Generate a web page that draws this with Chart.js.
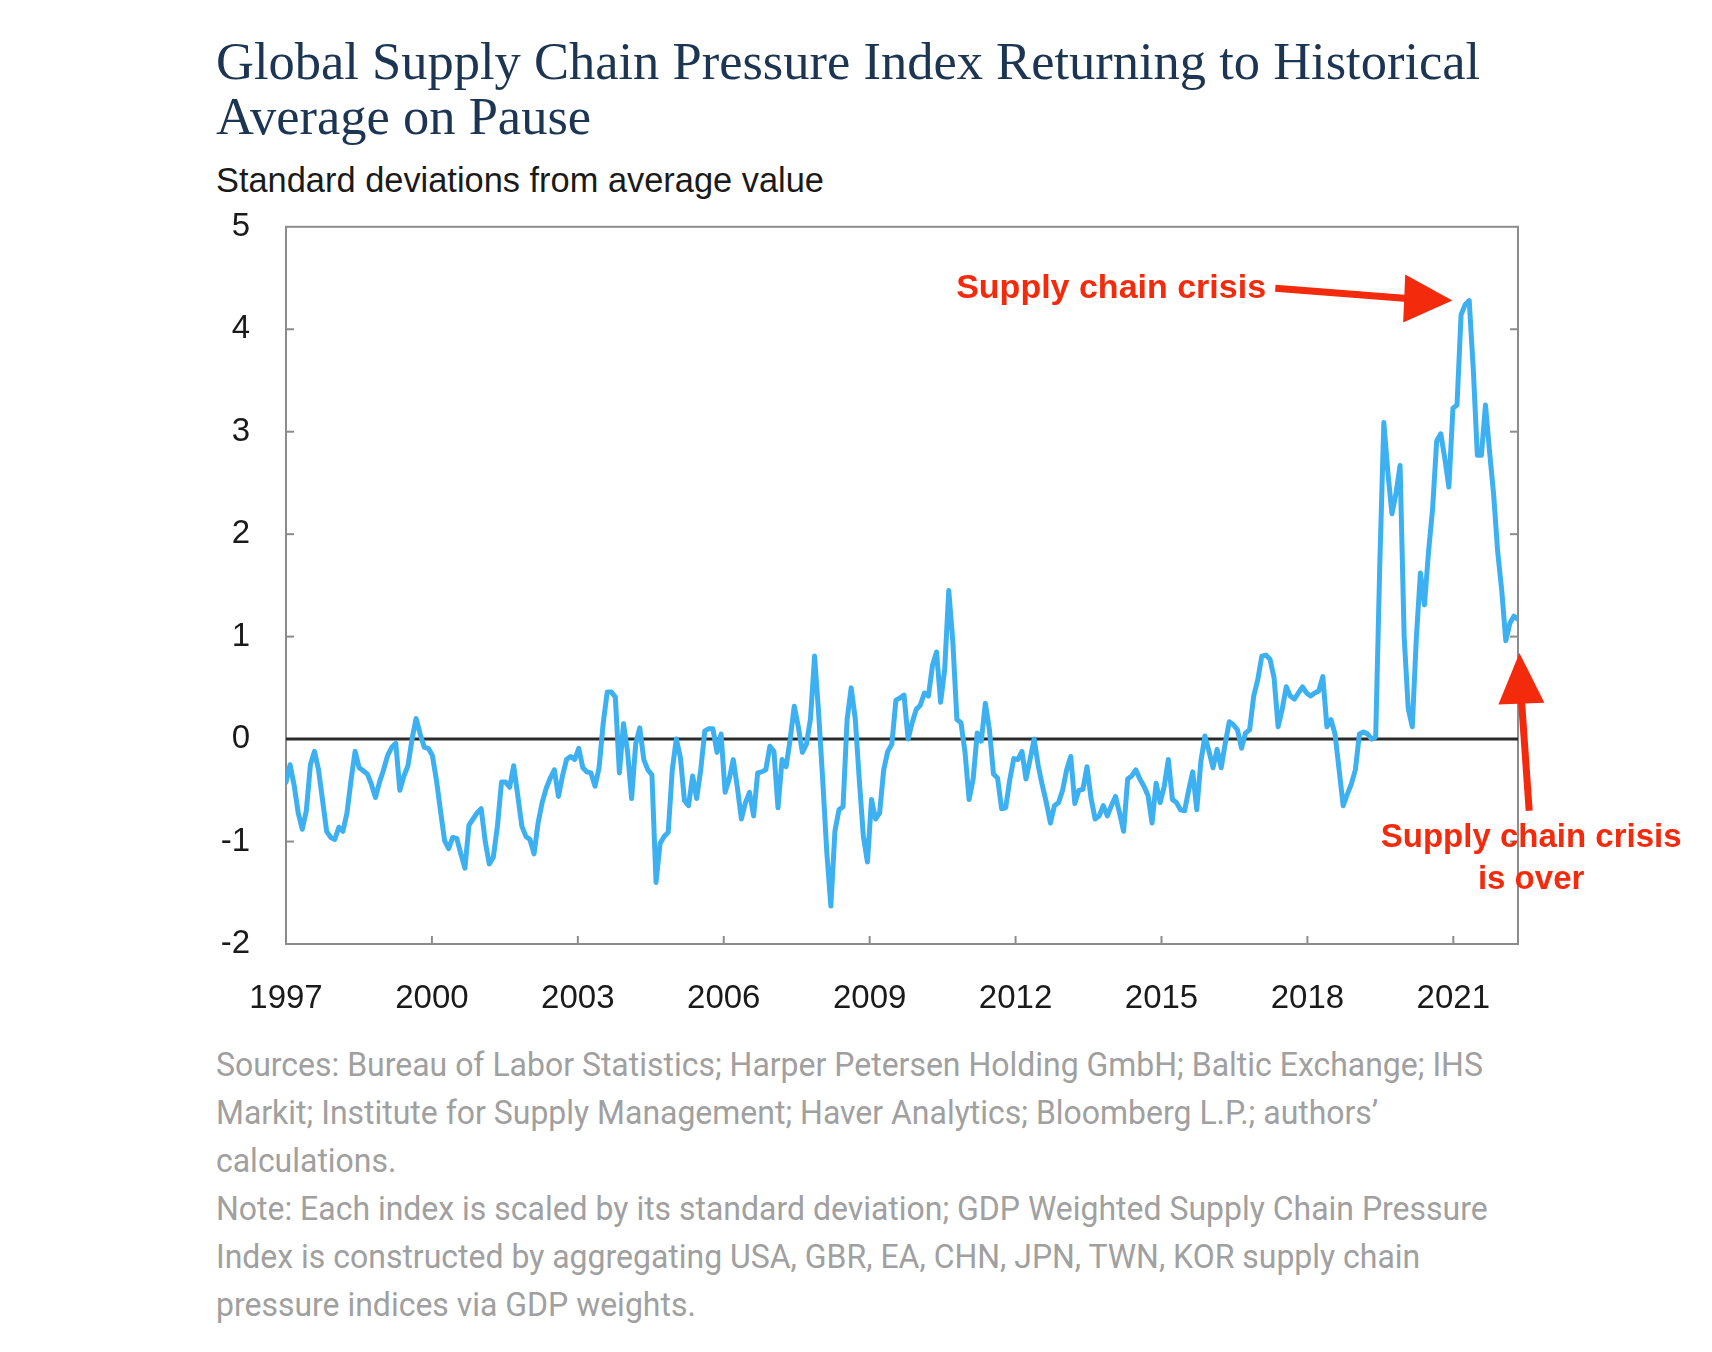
<!DOCTYPE html>
<html>
<head>
<meta charset="utf-8">
<script src="https://cdn.jsdelivr.net/npm/chart.js@4.4.0/dist/chart.umd.min.js"></script>
<style>
html,body{margin:0;padding:0;background:#fff;width:1712px;height:1352px;overflow:hidden;}
.t{position:absolute;white-space:nowrap;}
#title{left:216px;top:34px;font-family:"Liberation Serif","Times New Roman",serif;font-size:52.5px;line-height:55px;color:#1c3553;}
#sub{left:216px;top:160px;font-family:"Liberation Sans",Arial,sans-serif;font-size:34.4px;line-height:40px;color:#1a1a1a;}
#notes{left:216px;top:1040px;font-family:Roboto,sans-serif;font-size:34px;line-height:48px;color:#a0a0a0;transform:scaleX(0.94);transform-origin:0 0;}
#wrap{position:absolute;left:0;top:171px;width:1712px;height:859px;}
</style>
</head>
<body>
<div id="title" class="t">Global Supply Chain Pressure Index Returning to Historical<br>Average on Pause</div>
<div id="sub" class="t">Standard deviations from average value</div>
<div id="wrap"><canvas id="c"></canvas></div>
<div id="notes" class="t">Sources: Bureau of Labor Statistics; Harper Petersen Holding GmbH; Baltic Exchange; IHS<br>Markit; Institute for Supply Management; Haver Analytics; Bloomberg L.P.; authors’<br>calculations.<br>Note: Each index is scaled by its standard deviation; GDP Weighted Supply Chain Pressure<br>Index is constructed by aggregating USA, GBR, EA, CHN, JPN, TWN, KOR supply chain<br>pressure indices via GDP weights.</div>
<script>
// ---- data ----
const xTickYears = [1997, 2000, 2003, 2006, 2009, 2012, 2015, 2018, 2021];
const yTickValues = [-2, -1, 0, 1, 2, 3, 4, 5];
const axisStart = 1997;
const axisEnd = 2022.33;
// monthly index values (first point at the left edge, last at the right edge)
const gscpi = [
 -0.42,-0.25,-0.45,-0.72,-0.88,-0.70,-0.25,-0.12,-0.30,-0.60,
 -0.90,-0.96,-0.98,-0.86,-0.90,-0.72,-0.40,-0.12,-0.28,-0.31,
 -0.34,-0.44,-0.57,-0.42,-0.30,-0.16,-0.08,-0.04,-0.50,-0.36,
 -0.26, 0.00, 0.20, 0.05,-0.08,-0.09,-0.16,-0.40,-0.70,-0.99,
 -1.07,-0.96,-0.97,-1.12,-1.26,-0.84,-0.78,-0.72,-0.68,-1.00,
 -1.22,-1.15,-0.85,-0.42,-0.42,-0.47,-0.26,-0.55,-0.85,-0.95,
 -0.98,-1.12,-0.82,-0.62,-0.48,-0.38,-0.30,-0.56,-0.36,-0.20,
 -0.17,-0.20,-0.09,-0.28,-0.32,-0.33,-0.46,-0.28, 0.15, 0.46,
  0.46, 0.41,-0.33, 0.15,-0.12,-0.58,-0.05, 0.11,-0.20,-0.30,
 -0.35,-1.40,-1.02,-0.95,-0.91,-0.30, 0.00,-0.18,-0.60,-0.65,
 -0.36,-0.58,-0.30, 0.08, 0.10, 0.10,-0.13, 0.05,-0.52,-0.39,
 -0.20,-0.47,-0.78,-0.62,-0.52,-0.75,-0.33,-0.32,-0.30,-0.07,
 -0.12,-0.67,-0.20,-0.27, 0.00, 0.32, 0.12,-0.13,-0.05, 0.20,
  0.81, 0.25,-0.40,-1.10,-1.63,-0.90,-0.69,-0.66, 0.19, 0.50,
  0.20,-0.40,-0.95,-1.20,-0.59,-0.78,-0.72,-0.30,-0.12,-0.05,
  0.38, 0.40, 0.43, 0.00, 0.16, 0.29, 0.33, 0.45, 0.42, 0.72,
  0.85, 0.36, 0.68, 1.45, 0.95, 0.19, 0.16,-0.13,-0.59,-0.39,
  0.06,-0.02, 0.35, 0.09,-0.34,-0.38,-0.68,-0.67,-0.40,-0.19,
 -0.20,-0.12,-0.39,-0.20, 0.00,-0.26,-0.45,-0.62,-0.82,-0.65,
 -0.62,-0.50,-0.30,-0.17,-0.63,-0.50,-0.49,-0.27,-0.58,-0.78,
 -0.75,-0.65,-0.75,-0.65,-0.56,-0.72,-0.90,-0.39,-0.36,-0.30,
 -0.39,-0.46,-0.55,-0.82,-0.43,-0.62,-0.46,-0.20,-0.59,-0.62,
 -0.69,-0.70,-0.50,-0.32,-0.69,-0.22, 0.03,-0.12,-0.28,-0.10,
 -0.28,-0.04, 0.17, 0.14, 0.09,-0.09, 0.06, 0.09, 0.42, 0.58,
  0.81, 0.82, 0.78, 0.60, 0.12, 0.29, 0.51, 0.42, 0.39, 0.45,
  0.51, 0.45, 0.42, 0.45, 0.47, 0.61, 0.12, 0.19, 0.05,-0.30,
 -0.65,-0.54,-0.44,-0.30, 0.05, 0.07, 0.05, 0.00, 0.02, 1.69,
  3.09, 2.60, 2.20, 2.40, 2.67, 1.00, 0.30, 0.12, 0.99, 1.62,
  1.31, 1.83, 2.25, 2.91, 2.98, 2.74, 2.46, 3.23, 3.26, 4.14,
  4.24, 4.28, 3.61, 2.77, 2.77, 3.26, 2.81, 2.39, 1.83, 1.45,
  0.96, 1.13, 1.20, 1.17
];
// annotation anchors in axis units
const notePeak = {label:'Supply chain crisis', textX:2017.15, textY:4.40, tailX:2017.34, tailY:4.40, baseX:2019.99, baseY:4.30, tipX:2020.98, tipY:4.28};
const noteOver = {lines:['Supply chain crisis','is over'], textX:2022.60, textY:[-0.96,-1.37], tailX:2022.56, tailY:-0.70, baseX:2022.40, baseY:0.345, tipX:2022.36, tipY:0.84};

const step = (axisEnd - axisStart) / (gscpi.length - 1);
const points = gscpi.map((v, i) => ({x: axisStart + i * step, y: v}));

const RED = '#f42a0c';
function arrow(ctx, x, y, n, shaftW, headHalf){
  const tx = x.getPixelForValue(n.tailX), ty = y.getPixelForValue(n.tailY);
  const bx = x.getPixelForValue(n.baseX), by = y.getPixelForValue(n.baseY);
  const px = x.getPixelForValue(n.tipX), py = y.getPixelForValue(n.tipY);
  ctx.strokeStyle = RED; ctx.fillStyle = RED; ctx.lineWidth = shaftW; ctx.lineCap = 'butt';
  ctx.beginPath(); ctx.moveTo(tx, ty); ctx.lineTo(bx + (px - bx) * 0.2, by + (py - by) * 0.2); ctx.stroke();
  const dx = px - bx, dy = py - by, len = Math.hypot(dx, dy);
  const nx = -dy / len, ny = dx / len;
  ctx.beginPath();
  ctx.moveTo(px, py);
  ctx.lineTo(bx + nx * headHalf, by + ny * headHalf);
  ctx.lineTo(bx - nx * headHalf, by - ny * headHalf);
  ctx.closePath(); ctx.fill();
}

const frame = {
  id: 'frame',
  beforeDatasetsDraw(chart){
    const {ctx, chartArea: a, scales: {x, y}} = chart;
    ctx.save();
    ctx.strokeStyle = '#8c8c8c'; ctx.lineWidth = 2;
    ctx.strokeRect(a.left, a.top, a.right - a.left, a.bottom - a.top);
    ctx.lineWidth = 2;
    yTickValues.forEach(v => {
      if (v === yTickValues[0] || v === yTickValues[yTickValues.length - 1]) return;
      const py = y.getPixelForValue(v);
      ctx.beginPath(); ctx.moveTo(a.left, py); ctx.lineTo(a.left + 8, py); ctx.stroke();
      ctx.beginPath(); ctx.moveTo(a.right - 8, py); ctx.lineTo(a.right, py); ctx.stroke();
    });
    xTickYears.forEach((v, i) => {
      if (i === 0) return;
      const px = x.getPixelForValue(v);
      ctx.beginPath(); ctx.moveTo(px, a.bottom); ctx.lineTo(px, a.bottom - 8); ctx.stroke();
    });
    const y0 = y.getPixelForValue(0);
    ctx.strokeStyle = '#2a2a2a'; ctx.lineWidth = 3;
    ctx.beginPath(); ctx.moveTo(a.left, y0); ctx.lineTo(a.right, y0); ctx.stroke();
    ctx.restore();
  },
  afterDraw(chart){
    const {ctx, scales: {x, y}} = chart;
    ctx.save();
    ctx.font = 'bold 34px "Liberation Sans", Arial, sans-serif';
    ctx.fillStyle = RED;
    ctx.textBaseline = 'middle';
    ctx.textAlign = 'right';
    ctx.fillText(notePeak.label, x.getPixelForValue(notePeak.textX), y.getPixelForValue(notePeak.textY));
    arrow(ctx, x, y, notePeak, 7, 24);
    ctx.fillStyle = RED;
    ctx.textAlign = 'center';
    ctx.font = 'bold 33px "Liberation Sans", Arial, sans-serif';
    noteOver.lines.forEach((t, i) => ctx.fillText(t, x.getPixelForValue(noteOver.textX), y.getPixelForValue(noteOver.textY[i])));
    arrow(ctx, x, y, noteOver, 7, 23);
    ctx.restore();
  }
};

new Chart(document.getElementById('c'), {
  type: 'line',
  data: {datasets: [{data: points, borderColor: '#3cb0f0', borderWidth: 5, pointRadius: 0, tension: 0, borderJoinStyle: 'round', borderCapStyle: 'round', fill: false}]},
  options: {
    responsive: true, maintainAspectRatio: false, animation: false,
    layout: {autoPadding: false, padding: {top: 26, right: 194, left: 0, bottom: 0}},
    plugins: {legend: {display: false}, tooltip: {enabled: false}},
    scales: {
      x: {
        type: 'linear', min: axisStart, max: axisEnd,
        grid: {display: false, drawTicks: false}, border: {display: false},
        afterBuildTicks(s){ s.ticks = xTickYears.map(v => ({value: v})); },
        afterFit(s){ s.height = 86; },
        ticks: {padding: 35, color: '#1a1a1a', maxRotation: 0, autoSkip: false, font: {family: '"Liberation Sans", Arial, sans-serif', size: 33}, callback: v => String(v)}
      },
      y: {
        min: -2, max: 5,
        grid: {display: false, drawTicks: false}, border: {display: false},
        afterBuildTicks(s){ s.ticks = yTickValues.map(v => ({value: v})); },
        afterFit(s){ s.width = 286; },
        ticks: {padding: 36, color: '#1a1a1a', font: {family: '"Liberation Sans", Arial, sans-serif', size: 33}, callback: v => String(v)}
      }
    }
  },
  plugins: [frame]
});
</script>
</body>
</html>
